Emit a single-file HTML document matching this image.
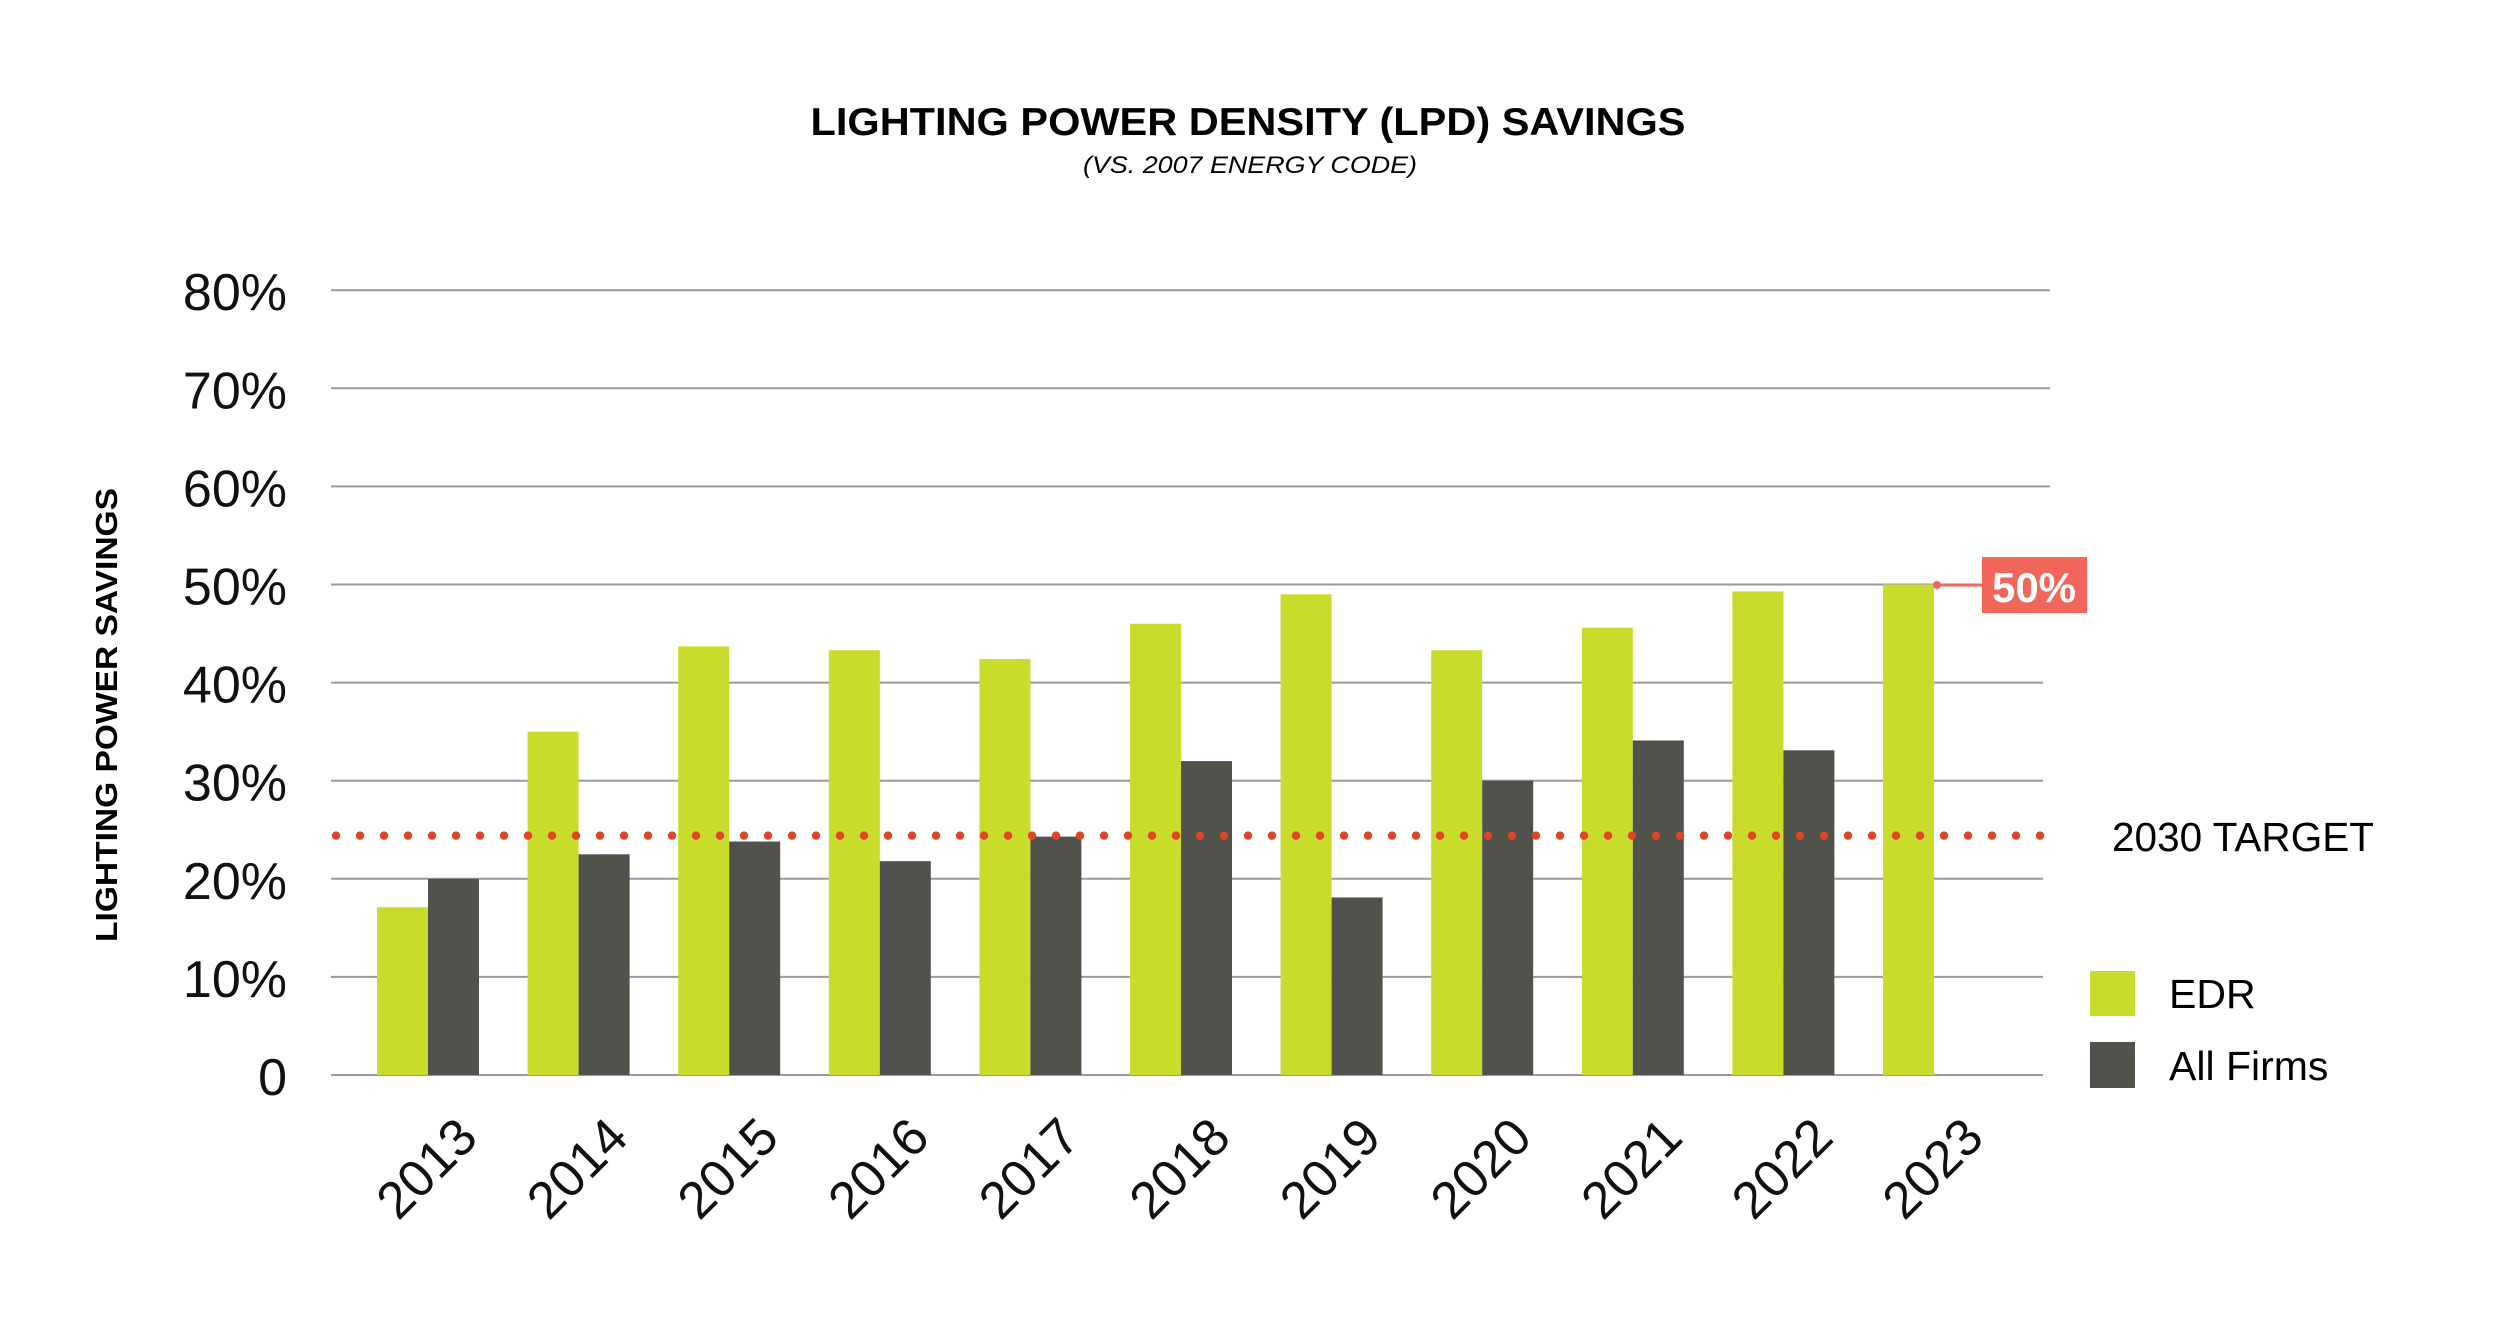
<!DOCTYPE html>
<html><head><meta charset="utf-8"><style>
html,body{margin:0;padding:0;background:#fff;}
svg{display:block;font-family:"Liberation Sans",sans-serif;}
</style></head><body>
<svg id="chart" width="2500" height="1318" viewBox="0 0 2500 1318" xmlns="http://www.w3.org/2000/svg">
<text x="1248" y="135" text-anchor="middle" font-size="39" font-weight="bold" textLength="875" lengthAdjust="spacingAndGlyphs">LIGHTING POWER DENSITY (LPD) SAVINGS</text>
<text x="1250" y="173" text-anchor="middle" font-size="24" font-style="italic" textLength="334" lengthAdjust="spacingAndGlyphs">(VS. 2007 ENERGY CODE)</text>
<text transform="translate(117,715) rotate(-90)" text-anchor="middle" font-size="31" font-weight="bold" textLength="454" lengthAdjust="spacingAndGlyphs">LIGHTING POWER SAVINGS</text>
<g id="grid"></g><g id="bars"></g><g id="target"></g><g id="xlabels"></g>
<g>
<line x1="1937" y1="585" x2="1982" y2="585" stroke="#f0665a" stroke-width="3"/>
<circle cx="1937" cy="585" r="4" fill="#f0665a"/>
<rect x="1982" y="557" width="105" height="56" fill="#f0665a"/>
<text x="2034" y="602" text-anchor="middle" fill="#fff" font-size="42" font-weight="bold">50%</text>
</g>
<text x="2112" y="851" font-size="41" textLength="262" lengthAdjust="spacingAndGlyphs">2030 TARGET</text>
<g><rect x="2090" y="971" width="45" height="45" fill="#cadc2b"/><text x="2169" y="1008" font-size="41">EDR</text></g>
<g><rect x="2090" y="1042" width="45" height="46" fill="#52524d"/><text x="2169" y="1080" font-size="41">All Firms</text></g>
</svg>
<script>
const years=["2013","2014","2015","2016","2017","2018","2019","2020","2021","2022","2023"];
const edr=[17.1,35.0,43.7,43.3,42.4,46.0,49.0,43.3,45.6,49.3,50.0];
const allFirms=[20.0,22.5,23.8,21.8,24.3,32.0,18.1,30.0,34.1,33.1,null];
const ticks=[0,10,20,30,40,50,60,70,80];
const tickLabels=["0","10%","20%","30%","40%","50%","60%","70%","80%"];
const target=[24.4];
const NS="http://www.w3.org/2000/svg";
const y0=1075, pxPer=9.81;
function yS(v){return y0-v*pxPer;}
function xS(i){return 377+i*150.6;}
const bw=51;
function mk(t,a,p){const e=document.createElementNS(NS,t);for(const k in a)e.setAttribute(k,a[k]);p.appendChild(e);return e;}
const grid=document.getElementById('grid');
ticks.forEach((t,i)=>{
  const l=mk('line',{x1:331,x2:(t>=50?2050:2043),y1:yS(t),y2:yS(t),stroke:'#9a9a9a','stroke-width':2},grid);
  
  
  const tx=mk('text',{x:287,y:yS(t)+20,'text-anchor':'end','font-size':52,fill:'#111'},grid);
  tx.textContent=tickLabels[i];
  
  
});
const bars=document.getElementById('bars');
years.forEach((yr,i)=>{
  const r=mk('rect',{x:xS(i),y:yS(edr[i]),width:bw,height:edr[i]*pxPer,fill:'#cadc2b'},bars);
  
  
  if(allFirms[i]!=null){
    const r2=mk('rect',{x:xS(i)+bw,y:yS(allFirms[i]),width:bw,height:allFirms[i]*pxPer,fill:'#52524d'},bars);
    
    
  }
  const lb=mk('text',{transform:`translate(${xS(i)+bw+52},1140) rotate(-45)`,'text-anchor':'end','font-size':52,fill:'#111'},document.getElementById('xlabels'));
  lb.textContent=yr;
  
  
});
const tg=document.getElementById('target');
for(let x=336;x<=2052;x+=24){
  const c=mk('circle',{cx:x,cy:yS(target[0]),r:4.2,fill:'#e04426'},tg);
  
  
}
</script>
</body></html>
